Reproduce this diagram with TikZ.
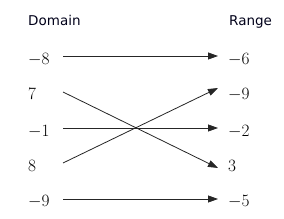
\documentclass[tikz,border=0pt]{standalone}
\usepackage{fontspec}
\newfontfamily\headfont{DejaVu Sans}
\usetikzlibrary{arrows.meta}
\begin{document}
\begin{tikzpicture}[x=1pt,y=-1pt,
  head/.style={font=\headfont\fontsize{13.5}{16}\selectfont, anchor=base west, inner sep=0pt, text=black!90!blue},
  val/.style={font=\fontsize{17}{20}\selectfont, anchor=base west, inner sep=0pt},
  map/.style={draw=black!85, line width=0.8pt, -{Triangle[length=10pt,width=7pt]}}]
\useasboundingbox (0,0) rectangle (284,219);
\node[head] (dom) at (28,26) {Domain};
\node[head] (ran) at (229,26) {Range};
% domain values
\node[val] (d1) at (28,65) {$-8$};
\node[val] (d2) at (28,100) {$7$};
\node[val] (d3) at (28,136.5) {$-1$};
\node[val] (d4) at (28,172) {$8$};
\node[val] (d5) at (28,207) {$-9$};
% range values
\node[val] (r1) at (228,65) {$-6$};
\node[val] (r2) at (228,100) {$-9$};
\node[val] (r3) at (228,136.5) {$-2$};
\node[val] (r4) at (228,172) {$3$};
\node[val] (r5) at (228,207) {$-5$};
% connector ends
\coordinate (a1) at (63,56);
\coordinate (a2) at (63,92);
\coordinate (a3) at (63,128);
\coordinate (a4) at (63,163);
\coordinate (a5) at (63,199);
\coordinate (b1) at (218,56);
\coordinate (b2) at (218,88);
\coordinate (b3) at (218,128);
\coordinate (b4) at (218,168);
\coordinate (b5) at (218,199);
\draw[map] (a1) -- (b1);
\draw[map] (a2) -- (b4);
\draw[map] (a3) -- (b3);
\draw[map] (a4) -- (b2);
\draw[map] (a5) -- (b5);
\end{tikzpicture}
\end{document}
